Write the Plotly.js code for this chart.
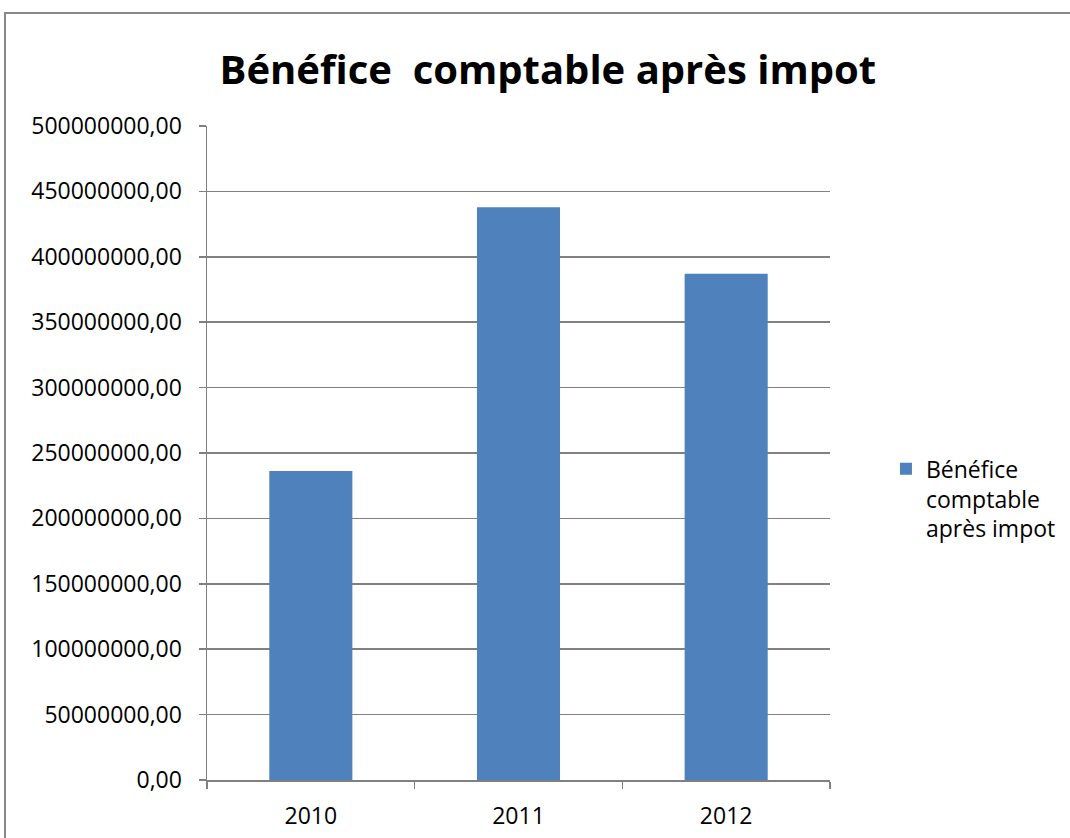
<!DOCTYPE html>
<html><head><meta charset="utf-8">
<script src="https://cdn.plot.ly/plotly-3.0.1.min.js"></script>
<style>
html,body{margin:0;padding:0;background:#fff;overflow:hidden;}
#chart{width:1070px;height:838px;position:absolute;left:0;top:0;}
#frame{position:absolute;left:4px;top:12px;width:1100px;height:900px;border:2px solid #888888;pointer-events:none;box-sizing:border-box;}
</style></head>
<body>
<div id="chart"></div>
<div id="frame"></div>
<script>
const categories = ['2010', '2011', '2012'];
const values = [236300000, 437800000, 387000000];
const seriesName = 'Bénéfice<br>comptable<br>après impot';
const chartTitle = 'Bénéfice  comptable après impot';
const yTickVals = [0, 50000000, 100000000, 150000000, 200000000, 250000000, 300000000, 350000000, 400000000, 450000000, 500000000];
const yTickText = ['0,00', '50000000,00', '100000000,00', '150000000,00', '200000000,00', '250000000,00', '300000000,00', '350000000,00', '400000000,00', '450000000,00', '500000000,00'];

const FONT = 'Open Sans, Noto Sans, sans-serif';
const GRAY = '#808080';

Plotly.newPlot('chart', [{
  type: 'bar',
  x: categories,
  y: values,
  name: seriesName,
  marker: {color: '#4F81BD'},
  showlegend: true,
  hoverinfo: 'none'
}], {
  width: 1070, height: 838,
  margin: {l: 207, r: 240, t: 126, b: 58},
  paper_bgcolor: '#ffffff', plot_bgcolor: '#ffffff',
  bargap: 0.6,
  title: {text: '<b>' + chartTitle + '</b>', font: {family: FONT, size: 40, color: '#000'}, x: 0.512, xanchor: 'center', y: 0.917, yanchor: 'middle'},
  font: {family: FONT, size: 23, color: '#000'},
  xaxis: {
    type: 'category', showgrid: false, showline: true, linecolor: GRAY, linewidth: 1.5,
    ticks: 'outside', tickson: 'boundaries', ticklen: 7, tickcolor: GRAY, tickwidth: 1.5,
    ticklabelstandoff: 15, tickfont: {family: FONT, size: 23, color: '#000'}, zeroline: false
  },
  yaxis: {
    range: [0, 500000000], tickvals: yTickVals, ticktext: yTickText,
    showgrid: true, gridcolor: GRAY, gridwidth: 1.5, showline: true, linecolor: GRAY, linewidth: 1.5,
    ticks: 'outside', ticklen: 7, tickcolor: GRAY, tickwidth: 1.5, zeroline: false,
    ticklabelstandoff: 12, tickfont: {family: FONT, size: 23, color: '#000'}
  },
  legend: {xref: 'container', x: 0.828, xanchor: 'left', y: 0.43, yanchor: 'middle', valign: 'top', itemwidth: 30,
    font: {family: FONT, size: 23, color: '#000'}, bgcolor: 'rgba(0,0,0,0)'}
}, {displayModeBar: false, staticPlot: true});
</script>
</body></html>
